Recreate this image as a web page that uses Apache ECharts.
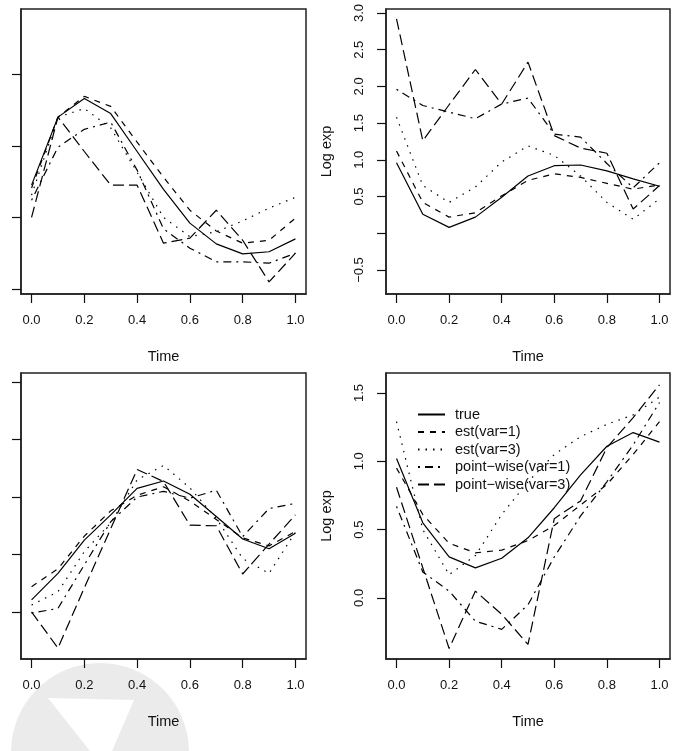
<!DOCTYPE html>
<html>
<head>
<meta charset="utf-8">
<script src="https://cdn.jsdelivr.net/npm/echarts@6/dist/echarts.min.js"></script>
<style>
  html, body { margin: 0; padding: 0; background: #fff; }
  #main { width: 674px; height: 751px; }
</style>
</head>
<body>
<div id="main"></div>
<script>
// time grid shared by all four panels
var times = [0, 0.1, 0.2, 0.3, 0.4, 0.5, 0.6, 0.7, 0.8, 0.9, 1.0];
var seriesNames = ['true', 'est(var=1)', 'est(var=3)', 'point\u2212wise(var=1)', 'point\u2212wise(var=3)'];
var xTicks = [0, 0.2, 0.4, 0.6, 0.8, 1.0];

// top-left panel (tick labels are cut off in the source, values in tick units)
var aTrue = [1.45, 2.40, 2.66, 2.45, 1.92, 1.39, 0.92, 0.63, 0.49, 0.52, 0.70];
var aEst1 = [1.41, 2.40, 2.69, 2.55, 2.05, 1.56, 1.10, 0.81, 0.64, 0.68, 0.99];
var aEst3 = [1.31, 2.40, 2.52, 2.25, 1.63, 1.00, 0.73, 0.80, 0.95, 1.13, 1.28];
var aPw1 = [1.24, 1.98, 2.23, 2.33, 1.66, 0.84, 0.57, 0.38, 0.38, 0.36, 0.50];
var aPw3 = [1.00, 2.40, 1.92, 1.45, 1.45, 0.64, 0.71, 1.10, 0.68, 0.10, 0.50];
var aTicks = [0, 1, 2, 3];

// top-right panel
var bTrue = [0.96, 0.26, 0.08, 0.22, 0.49, 0.78, 0.92, 0.93, 0.85, 0.74, 0.64];
var bEst1 = [1.12, 0.42, 0.22, 0.28, 0.51, 0.72, 0.81, 0.76, 0.68, 0.60, 0.66];
var bEst3 = [1.58, 0.65, 0.42, 0.63, 0.97, 1.19, 1.06, 0.78, 0.42, 0.19, 0.47];
var bPw1 = [1.96, 1.74, 1.65, 1.56, 1.76, 1.84, 1.35, 1.31, 0.95, 0.62, 0.96];
var bPw3 = [2.92, 1.26, 1.75, 2.23, 1.76, 2.33, 1.33, 1.16, 1.09, 0.33, 0.65];
var bTicks = [-0.5, 0, 0.5, 1.0, 1.5, 2.0, 2.5, 3.0];
var bLabels = [-0.5, 0.5, 1.0, 1.5, 2.0, 2.5, 3.0];

// bottom-left panel (tick labels cut off as well)
var cTrue = [0.21, 0.67, 1.25, 1.69, 2.15, 2.28, 2.05, 1.66, 1.27, 1.10, 1.37];
var cEst1 = [0.44, 0.75, 1.32, 1.76, 2.03, 2.18, 1.93, 1.61, 1.29, 1.15, 1.40];
var cEst3 = [0.12, 0.35, 1.05, 1.55, 2.30, 2.55, 2.16, 1.63, 0.93, 0.67, 1.39];
var cPw1 = [-0.02, 0.06, 0.82, 1.57, 2.00, 2.10, 1.98, 2.12, 1.31, 1.80, 1.89];
var cPw3 = [0.00, -0.63, 0.42, 1.45, 2.48, 2.27, 1.51, 1.50, 0.66, 1.18, 1.69];
var cTicks = [0, 1, 2, 3, 4];

// bottom-right panel
var dTrue = [1.02, 0.55, 0.30, 0.22, 0.29, 0.44, 0.66, 0.90, 1.11, 1.21, 1.14];
var dEst1 = [0.95, 0.61, 0.40, 0.33, 0.35, 0.42, 0.53, 0.68, 0.83, 1.05, 1.29];
var dEst3 = [1.29, 0.50, 0.17, 0.31, 0.61, 0.85, 1.05, 1.18, 1.27, 1.34, 1.47];
var dPw1 = [0.67, 0.19, 0.05, -0.17, -0.23, -0.05, 0.30, 0.60, 0.85, 1.12, 1.43];
var dPw3 = [0.81, 0.22, -0.37, 0.05, -0.12, -0.34, 0.58, 0.71, 1.10, 1.32, 1.56];
var dTicks = [0, 0.5, 1.0, 1.5];

var font = 'Liberation Sans, Arial, Helvetica, sans-serif';
var ink = '#111';
// R line types: solid, dashed, dotted, dotdash, longdash
var dashes = ['solid', [6, 6], [1.5, 6], [2, 5, 8, 5], [11, 5]];

function fmt(v) {
  var s = Math.abs(v).toFixed(1);
  return v < 0 ? '\u2212' + s : s;
}

function makeX(gi) {
  return {
    type: 'value', gridIndex: gi, min: -0.04, max: 1.04, position: 'bottom',
    name: 'Time', nameLocation: 'middle', nameGap: 55,
    nameTextStyle: { fontFamily: font, fontSize: 14.5, color: ink },
    axisLine: { show: true, onZero: false, lineStyle: { color: '#222', width: 1.5 } },
    splitLine: { show: false },
    axisTick: { show: true, inside: false, length: 9, customValues: xTicks, lineStyle: { color: ink, width: 1.2 } },
    axisLabel: { show: true, margin: 20, customValues: xTicks, formatter: fmt, fontFamily: font, fontSize: 13, color: ink }
  };
}

// ticks-only y axis (no labels)
function makeYTicks(gi, min, max, ticks) {
  return {
    type: 'value', gridIndex: gi, min: min, max: max, position: 'left',
    axisLine: { show: true, onZero: false, lineStyle: { color: '#222', width: 1.5 } },
    splitLine: { show: false },
    axisTick: { show: true, inside: false, length: 9, customValues: ticks, lineStyle: { color: ink, width: 1.2 } },
    axisLabel: { show: false }
  };
}

// labelled y axis (ticks come from the twin ticks-only axis)
function makeYLabels(gi, min, max, labels) {
  return {
    type: 'value', gridIndex: gi, min: min, max: max, position: 'left',
    name: 'Log exp', nameLocation: 'middle', nameGap: 52, nameRotate: 90,
    nameTextStyle: { fontFamily: font, fontSize: 14.5, color: ink },
    axisLine: { show: false, onZero: false },
    splitLine: { show: false },
    axisTick: { show: false },
    axisLabel: { show: true, rotate: 90, margin: 20, customValues: labels, formatter: fmt, fontFamily: font, fontSize: 13, color: ink }
  };
}

function panelSeries(gi, yi, arrs) {
  return arrs.map(function (arr, k) {
    return {
      name: seriesNames[k], type: 'line', xAxisIndex: gi, yAxisIndex: yi,
      data: times.map(function (t, i) { return [t, arr[i]]; }),
      symbol: 'none', silent: true, animation: false,
      itemStyle: { color: '#000' },
      lineStyle: { color: '#000', width: 1.2, type: dashes[k] }
    };
  });
}

var grids = [
  { left: 21, top: 9, width: 285, height: 285 },
  { left: 386, top: 9, width: 284, height: 285 },
  { left: 21, top: 373, width: 285, height: 286 },
  { left: 386, top: 373, width: 284, height: 286 }
].map(function (g) {
  g.show = true; g.borderColor = '#222'; g.borderWidth = 1.5; g.backgroundColor = 'transparent';
  g.containLabel = false; g.outerBoundsMode = 'none';
  return g;
});

var option = {
  backgroundColor: '#fff',
  animation: false,
  color: ['#000'],
  textStyle: { fontFamily: font },
  graphic: [
    { type: 'circle', z: -10, silent: true, shape: { cx: 100, cy: 752, r: 89 }, style: { fill: '#ebebeb' } },
    { type: 'polygon', z: -9, silent: true, shape: { points: [[48, 698], [134, 700], [112, 751], [90, 751]] }, style: { fill: '#fff' } }
  ],
  grid: grids,
  xAxis: [makeX(0), makeX(1), makeX(2), makeX(3)],
  yAxis: [
    makeYTicks(0, -0.07, 3.91, aTicks),
    makeYTicks(1, -0.827, 3.054, bTicks),
    makeYTicks(2, -0.82, 4.16, cTicks),
    makeYTicks(3, -0.447, 1.646, dTicks),
    makeYLabels(1, -0.827, 3.054, bLabels),
    makeYLabels(3, -0.447, 1.646, dTicks)
  ],
  legend: {
    show: true, orient: 'vertical', left: 417, top: 407, padding: 0,
    itemWidth: 27, itemHeight: 14, itemGap: 2.5,
    data: seriesNames,
    itemStyle: { opacity: 0 },
    textStyle: { fontFamily: font, fontSize: 14.5, color: ink, padding: [0, 0, 0, 5] },
    selectedMode: false
  },
  series: [].concat(
    panelSeries(0, 0, [aTrue, aEst1, aEst3, aPw1, aPw3]),
    panelSeries(1, 1, [bTrue, bEst1, bEst3, bPw1, bPw3]),
    panelSeries(2, 2, [cTrue, cEst1, cEst3, cPw1, cPw3]),
    panelSeries(3, 3, [dTrue, dEst1, dEst3, dPw1, dPw3])
  )
};

var chart = echarts.init(document.getElementById('main'), null, { renderer: 'canvas' });
chart.setOption(option);
</script>
</body>
</html>
